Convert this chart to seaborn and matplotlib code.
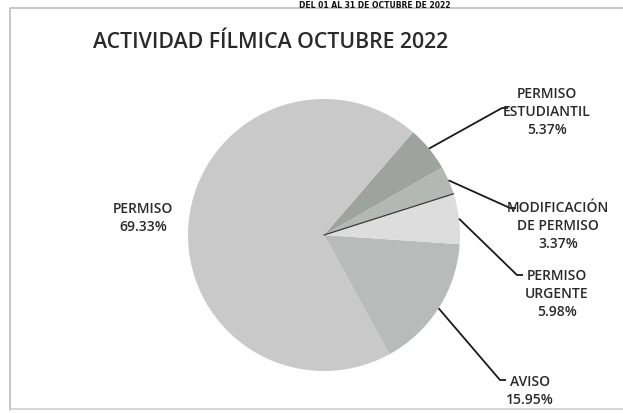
import numpy as np
import matplotlib
matplotlib.use("Agg")
import matplotlib.pyplot as plt
import seaborn as sns

# data, in drawing order (counterclockwise from the AVISO/PERMISO edge)
categorias = ["AVISO", "PERMISO\nURGENTE", "MODIFICACIÓN\nDE PERMISO", "PERMISO\nESTUDIANTIL", "PERMISO"]
porcentajes = [15.95, 5.98, 3.37, 5.37, 69.33]
colores = ["#b9bbba", "#dddddd", "#b3b8b5", "#9ea3a0", "#c9c9c9"]

titulo = "ACTIVIDAD FÍLMICA OCTUBRE 2022"
encabezado = "DEL 01 AL 31 DE OCTUBRE DE 2022"

sns.set_style("white")
plt.rcParams["font.family"] = ["Open Sans", "DejaVu Sans"]

W, H = 623, 413
fig = plt.figure(figsize=(W / 100, H / 100), dpi=100)
ax = fig.add_axes([0, 0, 1, 1])

cx, cy, r = 324, H - 235, 136
start = -61.3
wedges, _ = ax.pie(porcentajes, colors=colores, startangle=start, counterclock=True,
                   center=(cx, cy), radius=r, frame=True,
                   wedgeprops=dict(linewidth=0))
ax.set_xlim(0, W)
ax.set_ylim(0, H)
ax.set_aspect("equal")
ax.axis("off")

# dark shading line on the edge between URGENTE and MODIFICACIÓN
a = np.deg2rad(wedges[1].theta2)
ax.plot([cx, cx + r * np.cos(a)], [cy, cy + r * np.sin(a)], color="#3a3a3a", lw=0.9)

# where the labels sit (pixel coords, y from top) and where the leader bends
pos_etiquetas = [(530, 391), (557, 294), (558, 226), (547, 112), (143, 218)]
codos = [(500, 380), (517, 275), (510, 208), (502, 108), None]

for w, cat, p, (lx, ly), codo in zip(wedges, categorias, porcentajes, pos_etiquetas, codos):
    ang = np.deg2rad((w.theta1 + w.theta2) / 2)
    ex, ey = cx + r * np.cos(ang), cy + r * np.sin(ang)
    ax.text(lx, H - ly, f"{cat}\n{p:.2f}%", ha="center", va="center",
            fontsize=10, fontweight="semibold", color="#2a2a2a", linespacing=1.4)
    if codo is not None:
        bx, by = codo
        ax.plot([ex, bx, bx + 6], [ey, H - by, H - by], color="#1a1a1a", lw=1.3,
                solid_capstyle="butt")

ax.text(271, H - 42, titulo, ha="center", va="center", fontsize=15.3,
        fontweight="semibold", color="#2a2a2a")

# header of the scanned page, above the chart frame
ax.text(375, H - 0.5, encabezado, ha="center", va="top", fontsize=5.5,
        fontweight="bold", family="DejaVu Sans", color="#111111")

# chart frame
ax.plot([10, 10, W + 5], [3, H - 8, H - 8], color="#bdbdbd", lw=1.2, clip_on=False)
ax.plot([10, W], [4, 4], color="#d0d0d0", lw=1.2)

fig.savefig("out.png", dpi=100)
